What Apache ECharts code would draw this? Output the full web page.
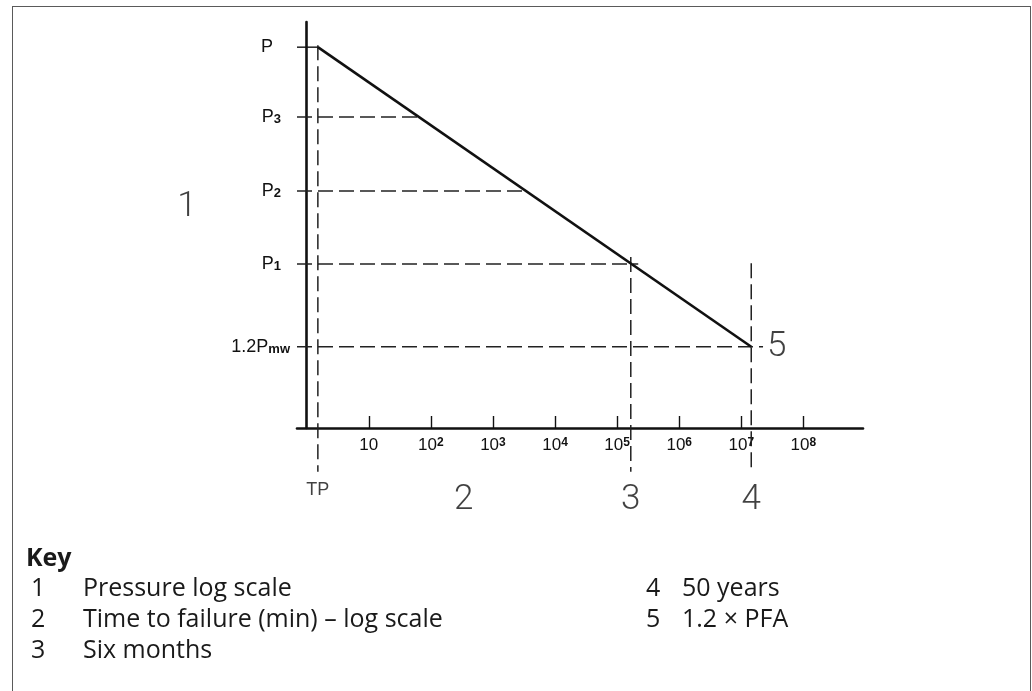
<!DOCTYPE html>
<html><head><meta charset="utf-8">
<script src="https://cdn.jsdelivr.net/npm/echarts@6/dist/echarts.min.js"></script>
<style>
html,body{margin:0;padding:0;background:#fff;}
#frame{position:absolute;left:12px;top:6px;width:1019px;height:740px;border:1.6px solid #5a5a5a;border-bottom:none;box-sizing:border-box;}
#chart{position:absolute;left:0;top:0;width:1032px;height:691px;}
</style></head><body>
<div id="frame"></div>
<div id="chart"></div>
<script>
// x: log10(time to failure, min); y: position on the pressure log scale (schematic units)
const xTickExponents = [1, 2, 3, 4, 5, 6, 7, 8];
const xTickLabels = ['{b|10}', '{b|10}{sup|2}', '{b|10}{sup|3}', '{b|10}{sup|4}', '{b|10}{sup|5}', '{b|10}{sup|6}', '{b|10}{sup|7}', '{b|10}{sup|8}'];
const yTickValues = [9.38, 7.66, 5.84, 4.04, 2.0];
const yTickLabels = ['{b|P}{g1|}', '{b|P}{sub|3}{g2|}', '{b|P}{sub|2}{g2|}', '{b|P}{sub|1}{g2|}', '{b|1.2P}{sub|mw}'];

// regression line: from test pressure P at TP to 1.2 Pmw at 50 years
const curveX = [0.18, 7.16];
const curveY = [9.38, 2.0];

// horizontal reference lines (from the pressure axis to their end)
const hLineY = [7.66, 5.84, 4.04, 2.0];
const hLineEndX = [1.79, 3.52, 5.34, 7.35];
// vertical reference lines: TP, six months, 50 years
const vLineX = [0.18, 5.22, 7.16];
const vLineTopY = [9.43, 4.21, 4.06];
const vLineBottomY = [-1.08, -1.08, -1.08];

// callout labels
const calloutText = ['1', '2', '3', '4', '5'];
const calloutX = [-1.93, 2.53, 5.22, 7.16, 7.57];
const calloutY = [5.43, -1.78, -1.78, -1.78, 2.0];
const tpLabel = 'TP';
const tpLabelY = -1.53;

// key
const keyTitle = 'Key';
const keyNumbers = ['1', '2', '3', '4', '5'];
const keyTexts = ['Pressure log scale', 'Time to failure (min) \u2013 log scale', 'Six months', '50 years', '1.2 \u00d7 PFA'];

const X_MIN = -0.156, X_MAX = 8.96, Y_MIN = 0, Y_MAX = 10;
const TECH = "'Liberation Sans', Arimo, sans-serif";
const THIN = "Roboto, 'Liberation Sans', sans-serif";
const KEYF = "'Open Sans', 'Noto Sans', sans-serif";
const INK = '#111';

const dash = { color: '#222', width: 1.5, type: [15, 6] };
const base = { type: 'line', silent: true, symbol: 'none', clip: false, animation: false };
const series = [];
hLineY.forEach((y, i) => {
  series.push(Object.assign({}, base, { lineStyle: dash, data: [[X_MIN, y], [hLineEndX[i], y]] }));
});
vLineX.forEach((x, i) => {
  series.push(Object.assign({}, base, { lineStyle: dash, data: [[x, vLineTopY[i]], [x, vLineBottomY[i]]] }));
});
// short solid tick for P
series.push(Object.assign({}, base, { lineStyle: { color: INK, width: 1.4 }, data: [[X_MIN, curveY[0]], [curveX[0], curveY[0]]] }));
// the regression line
series.push(Object.assign({}, base, { lineStyle: { color: INK, width: 2.6 }, data: curveX.map((x, i) => [x, curveY[i]]) }));
// big callout numbers
series.push({ type: 'scatter', silent: true, clip: false, animation: false, symbolSize: 0,
  data: calloutX.map((x, i) => ({ value: [x, calloutY[i]], name: calloutText[i] })),
  label: { show: true, position: 'inside', formatter: p => p.name,
    fontFamily: THIN, fontWeight: 300, color: INK, fontSize: 35 }
});
// TP label
series.push({ type: 'scatter', silent: true, clip: false, animation: false, symbolSize: 0,
  data: [{ value: [vLineX[0], tpLabelY], name: tpLabel }],
  label: { show: true, position: 'inside', formatter: p => p.name,
    fontFamily: TECH, color: INK, fontSize: 18 }
});

const keyGraphics = [{ type: 'text', left: 26, top: 563 - 17,
  style: { text: keyTitle, font: "bold 25px " + KEYF, fill: '#1a1a1a' } }];
keyNumbers.forEach((n, i) => {
  const top = 593 + (i % 3) * 31 - 17;
  keyGraphics.push({ type: 'text', left: i < 3 ? 31 : 646, top: top,
    style: { text: n, font: "25px " + KEYF, fill: '#1a1a1a' } });
  keyGraphics.push({ type: 'text', left: i < 3 ? 83 : 682, top: top,
    style: { text: keyTexts[i], font: "25px " + KEYF, fill: '#1a1a1a' } });
});

const option = {
  backgroundColor: 'transparent',
  animation: false,
  grid: { left: 297, right: 1032 - 863, top: 22, bottom: 691 - 428, outerBoundsMode: 'none', containLabel: false },
  xAxis: {
    type: 'value', min: X_MIN, max: X_MAX,
    axisLine: { show: true, lineStyle: { color: INK, width: 2.6 } },
    splitLine: { show: false },
    axisTick: { show: true, inside: true, length: 12, customValues: xTickExponents, lineStyle: { color: INK, width: 1.4 } },
    axisLabel: {
      show: true, customValues: xTickExponents, margin: 9,
      formatter: v => xTickLabels[xTickExponents.indexOf(v)],
      rich: {
        b: { fontFamily: TECH, fontSize: 17, lineHeight: 17, padding: [5, 0, 0, 0], color: INK, verticalAlign: 'bottom' },
        sup: { fontFamily: TECH, fontSize: 12, lineHeight: 12, color: INK, verticalAlign: 'top', fontWeight: 'bold' }
      }
    }
  },
  yAxis: {
    type: 'value', min: Y_MIN, max: Y_MAX,
    axisLine: { show: true, lineStyle: { color: INK, width: 2.6 } },
    splitLine: { show: false },
    axisTick: { show: false },
    axisLabel: {
      show: true, customValues: yTickValues, margin: 7, align: 'right',
      formatter: v => yTickLabels[yTickValues.indexOf(v)],
      rich: {
        b: { fontFamily: TECH, fontSize: 18, lineHeight: 18, padding: [0, 0, 4, 0], color: INK, verticalAlign: 'top' },
        sub: { fontFamily: TECH, fontSize: 13, lineHeight: 13, fontWeight: 'bold', color: INK, verticalAlign: 'bottom' },
        g1: { width: 17 },
        g2: { width: 9 }
      }
    }
  },
  graphic: keyGraphics,
  series: series
};

const chart = echarts.init(document.getElementById('chart'), null, { renderer: 'canvas' });
chart.setOption(option);
</script>
</body></html>
